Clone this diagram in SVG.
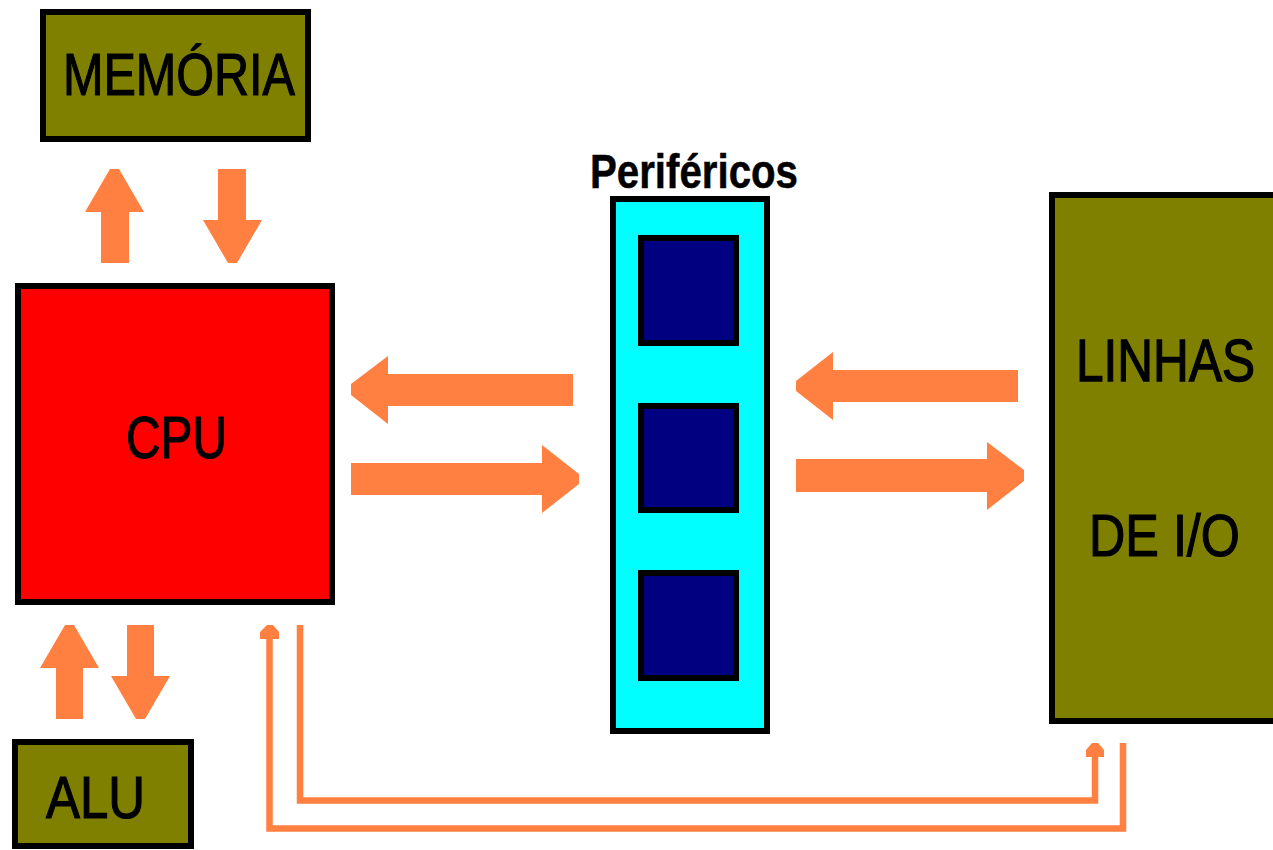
<svg xmlns="http://www.w3.org/2000/svg" width="1273" height="850" viewBox="0 0 1273 850">
<style>
.box{stroke:#000;stroke-width:6}
.olive{fill:#808000}
.lbl{font-family:"Liberation Sans",Arial,sans-serif;font-size:60px;fill:#000;stroke:#000;stroke-width:1.2}
.arrow{fill:#FF8040}
.line{fill:none;stroke:#FF8040;stroke-width:6.5}
</style>
<rect width="1273" height="850" fill="#fff"/>
<g id="memoria">
<rect class="box olive" x="43" y="12" width="265" height="127"/>
<text class="lbl" x="63" y="95" textLength="232" lengthAdjust="spacingAndGlyphs">MEMÓRIA</text>
</g>
<g id="cpu">
<rect class="box" fill="#FF0000" x="18" y="286" width="314" height="316"/>
<text class="lbl" x="126" y="458" textLength="101" lengthAdjust="spacingAndGlyphs">CPU</text>
</g>
<g id="alu">
<rect class="box olive" x="15" y="742" width="176" height="104"/>
<text class="lbl" x="46" y="818" textLength="99" lengthAdjust="spacingAndGlyphs">ALU</text>
</g>
<g id="perifericos">
<text class="lbl" style="font-size:48px;font-weight:bold;stroke-width:0.5" x="590" y="188" textLength="208" lengthAdjust="spacingAndGlyphs">Periféricos</text>
<rect class="box" fill="#00FFFF" x="613" y="199" width="154" height="532"/>
<rect class="box" fill="#000080" x="641" y="238" width="95" height="105"/>
<rect class="box" fill="#000080" x="641" y="406" width="95" height="104"/>
<rect class="box" fill="#000080" x="641" y="573" width="95" height="105"/>
</g>
<g id="linhas">
<rect class="olive" x="1049" y="192" width="224" height="532"/>
<path d="M1273 195 H1052 V721 H1273" fill="none" stroke="#000" stroke-width="6"/>
<text class="lbl" transform="translate(1076,381) scale(1,1.2)" x="0" y="0" style="font-size:50px;stroke-width:1.1" textLength="179" lengthAdjust="spacingAndGlyphs">LINHAS</text>
<text class="lbl" x="1089" y="556" textLength="151" lengthAdjust="spacingAndGlyphs">DE I/O</text>
</g>
<g id="connectors">
<polygon class="arrow" points="110,169 119,169 144,212 129,212 129,263 101,263 101,212 85,212"/>
<polygon class="arrow" points="218,169 246,169 246,220 262,220 237,263 228,263 203,220 218,220"/>
<polygon class="arrow" points="65,625 74,625 99,668 83,668 83,719 56,719 56,668 40,668"/>
<polygon class="arrow" points="127,625 154,625 154,676 170,676 145,719 136,719 111,676 127,676"/>
<polygon class="arrow" points="351,384 388,356 388,374 573,374 573,406 388,406 388,424 351,395"/>
<polygon class="arrow" points="351,463 542,463 542,445 579,474 579,484 542,513 542,495 351,495"/>
<polygon class="arrow" points="796,381 833,352 833,370 1018,370 1018,402 833,402 833,420 796,391"/>
<polygon class="arrow" points="796,459 987,459 987,442 1024,470 1024,481 987,510 987,492 796,492"/>
<path class="line" d="M1123 743 V828.5 H269.5 V636"/>
<polygon class="arrow" points="267,625 273,625 279,632 279,639 260,639 260,632"/>
<path class="line" d="M300 625 V800.5 H1095 V754"/>
<polygon class="arrow" points="1092,743 1098,743 1104,750 1104,757 1086,757 1086,750"/>
</g>
</svg>
